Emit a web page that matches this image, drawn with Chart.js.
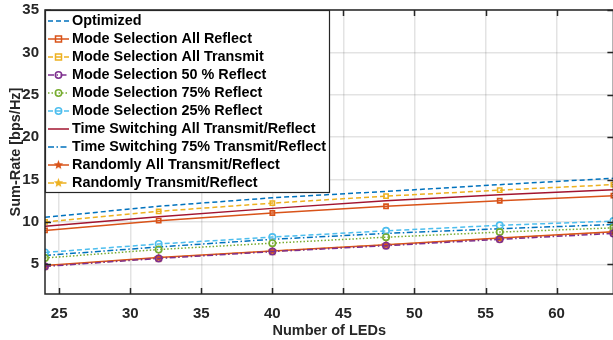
<!DOCTYPE html>
<html>
<head>
<meta charset="utf-8">
<script src="https://cdn.jsdelivr.net/npm/chart.js@4/dist/chart.umd.min.js"></script>
<style>
  html, body { margin: 0; padding: 0; background: #fff; overflow: hidden; }
  #wrap { width: 620px; height: 340px; }
</style>
</head>
<body>
<div id="wrap"><canvas id="sumRate" width="620" height="340"></canvas></div>
<script>
// datos (Sum-Rate vs número de LEDs)
const nLeds = [24, 32, 40, 48, 56, 64];
const xTicks = [25, 30, 35, 40, 45, 50, 55, 60];
const yTicks = [5, 10, 15, 20, 25, 30, 35];

const optimized      = [10.55, 11.85, 12.85, 13.6, 14.4, 15.15];
const msAllReflect   = [9.0, 10.15, 11.05, 11.85, 12.5, 13.1];
const msAllTransmit  = [10.0, 11.25, 12.22, 13.05, 13.75, 14.4];
const ms50Reflect    = [4.75, 5.7, 6.5, 7.2, 7.95, 8.65];
const ms75Reflect    = [5.75, 6.75, 7.5, 8.2, 8.8, 9.3];
const ms25Reflect    = [6.4, 7.4, 8.22, 8.95, 9.6, 10.1];
const tsAll          = [9.5, 10.6, 11.6, 12.5, 13.2, 13.8];
const ts75           = [6.05, 7.05, 7.95, 8.65, 9.2, 9.7];
const randAll        = [4.85, 5.8, 6.58, 7.3, 8.1, 8.85];
const randTR         = [4.8, 5.75, 6.55, 7.28, 8.05, 8.8];

const seriesNames = [
  'Optimized',
  'Mode Selection All Reflect',
  'Mode Selection All Transmit',
  'Mode Selection 50 % Reflect',
  'Mode Selection 75% Reflect',
  'Mode Selection 25% Reflect',
  'Time Switching All Transmit/Reflect',
  'Time Switching 75% Transmit/Reflect',
  'Randomly All Transmit/Reflect',
  'Randomly Transmit/Reflect'
];
const seriesValues = [optimized, msAllReflect, msAllTransmit, ms50Reflect, ms75Reflect,
  ms25Reflect, tsAll, ts75, randAll, randTR];

// colores MATLAB
const C = {
  blue: '#0072BD', orange: '#D95319', yellow: '#EDB120', purple: '#7E2F8E',
  green: '#77AC30', cyan: '#4DBEEE', red: '#A2142F'
};
const DASH = [5, 3], DOT = [1.5, 2], DASHDOT = [6, 2.5, 1.5, 2.5];

// estrella de 5 puntas como marcador
function pentagram(color) {
  const c = document.createElement('canvas');
  c.width = 11; c.height = 11;
  const g = c.getContext('2d');
  g.beginPath();
  for (let i = 0; i < 10; i++) {
    const r = i % 2 === 0 ? 5 : 2.1;
    const a = -Math.PI / 2 + i * Math.PI / 5;
    const px = 5.5 + r * Math.cos(a), py = 5.8 + r * Math.sin(a);
    if (i === 0) g.moveTo(px, py); else g.lineTo(px, py);
  }
  g.closePath();
  g.fillStyle = color;
  g.fill();
  return c;
}

const styles = [
  { color: C.blue, dash: DASH, marker: null },
  { color: C.orange, dash: [], marker: 'rect' },
  { color: C.yellow, dash: DASH, marker: 'rect' },
  { color: C.purple, dash: DASHDOT, marker: 'circle' },
  { color: C.green, dash: DOT, marker: 'circle' },
  { color: C.cyan, dash: DASH, marker: 'circle' },
  { color: C.red, dash: [], marker: null },
  { color: C.blue, dash: DASHDOT, marker: null },
  { color: C.orange, dash: [], marker: 'star' },
  { color: C.yellow, dash: DASHDOT, marker: 'star' }
];

const datasets = seriesNames.map((name, i) => {
  const s = styles[i];
  let pStyle = 'circle', radius = 0;
  if (s.marker === 'rect') { pStyle = 'rect'; radius = 3; }
  if (s.marker === 'circle') { pStyle = 'circle'; radius = 3.2; }
  if (s.marker === 'star') { pStyle = pentagram(s.color); radius = 5; }
  return {
    label: name,
    data: nLeds.map((x, k) => ({ x: x, y: seriesValues[i][k] })),
    borderColor: s.color,
    backgroundColor: 'rgba(255,255,255,0)',
    borderWidth: 1.5,
    borderDash: s.dash,
    pointStyle: pStyle,
    pointRadius: radius,
    pointBorderColor: s.color,
    pointBackgroundColor: 'rgba(255,255,255,0)',
    pointBorderWidth: 1.6,
    tension: 0,
    fill: false,
    _marker: s.marker
  };
});

const AXIS = '#262626';

// caja de ejes, ticks hacia dentro y leyenda dentro del área
const matlabLook = {
  id: 'matlabLook',
  afterDraw(chart) {
    const ctx = chart.ctx, a = chart.chartArea;
    const xs = chart.scales.x, ys = chart.scales.y;
    ctx.save();
    ctx.strokeStyle = AXIS;
    ctx.lineWidth = 1.5;
    ctx.setLineDash([]);
    ctx.strokeRect(a.left, a.top, a.right - a.left, a.bottom - a.top);
    xTicks.forEach(t => {
      const px = Math.round(xs.getPixelForValue(t)) + 0.5;
      ctx.beginPath();
      ctx.moveTo(px, a.bottom); ctx.lineTo(px, a.bottom - 6);
      ctx.moveTo(px, a.top); ctx.lineTo(px, a.top + 6);
      ctx.stroke();
    });
    yTicks.forEach(t => {
      const py = Math.round(ys.getPixelForValue(t)) + 0.5;
      ctx.beginPath();
      ctx.moveTo(a.left, py); ctx.lineTo(a.left + 6, py);
      ctx.moveTo(a.right, py); ctx.lineTo(a.right - 6, py);
      ctx.stroke();
    });

    // leyenda
    const lx = a.left, ly = a.top, lw = 284, lh = 182;
    ctx.fillStyle = '#fff';
    ctx.fillRect(lx, ly, lw, lh);
    ctx.strokeStyle = AXIS;
    ctx.lineWidth = 1.2;
    ctx.strokeRect(lx + 0.5, ly + 0.5, lw, lh);
    ctx.font = 'bold 14.4px "Liberation Sans", Arial, sans-serif';
    ctx.textBaseline = 'middle';
    chart.data.datasets.forEach((ds, i) => {
      const y = ly + 11 + i * 18;
      ctx.strokeStyle = ds.borderColor;
      ctx.lineWidth = 1.5;
      ctx.setLineDash(ds.borderDash);
      ctx.beginPath();
      ctx.moveTo(lx + 3, y); ctx.lineTo(lx + 24, y);
      ctx.stroke();
      ctx.setLineDash([]);
      const mx = lx + 13.5;
      if (ds._marker === 'rect') {
        ctx.strokeRect(mx - 3, y - 3, 6, 6);
      } else if (ds._marker === 'circle') {
        ctx.beginPath(); ctx.arc(mx, y, 3.2, 0, Math.PI * 2); ctx.stroke();
      } else if (ds._marker === 'star') {
        ctx.drawImage(ds.pointStyle, mx - 5.5, y - 5.8);
      }
      ctx.fillStyle = '#000';
      ctx.fillText(ds.label, lx + 27, y + 0.5);
    });
    ctx.restore();
  }
};

const tickFont = { family: '"Liberation Sans", Arial, sans-serif', size: 15, weight: 'bold' };
const titleFont = { family: '"Liberation Sans", Arial, sans-serif', size: 14.5, weight: 'bold' };

new Chart(document.getElementById('sumRate'), {
  type: 'line',
  data: { datasets: datasets },
  options: {
    responsive: false,
    devicePixelRatio: 1,
    animation: false,
    layout: { padding: { top: 10, right: 0, left: 0, bottom: 0 } },
    plugins: { legend: { display: false }, tooltip: { enabled: false } },
    scales: {
      x: {
        type: 'linear',
        min: 24, max: 64,
        afterBuildTicks: s => { s.ticks = xTicks.map(v => ({ value: v })); },
        afterFit: s => { s.height = 46; s.paddingLeft = 0; s.paddingRight = 0; },
        grid: { color: 'rgba(38,38,38,0.13)', lineWidth: 1.5, drawTicks: false },
        border: { display: false },
        ticks: { font: tickFont, color: AXIS, padding: 11, maxRotation: 0 },
        title: { display: true, text: 'Number of LEDs', font: titleFont, color: AXIS, padding: { top: 0, bottom: 0 } }
      },
      y: {
        min: 1.5, max: 35,
        afterBuildTicks: s => { s.ticks = yTicks.map(v => ({ value: v })); },
        afterFit: s => { s.width = 45; s.paddingTop = 0; s.paddingBottom = 0; },
        grid: { color: 'rgba(38,38,38,0.13)', lineWidth: 1.5, drawTicks: false },
        border: { display: false },
        ticks: { font: tickFont, color: AXIS, padding: 6 },
        title: { display: true, text: 'Sum-Rate [bps/Hz]', font: titleFont, color: AXIS, padding: { top: 7, bottom: 0 } }
      }
    }
  },
  plugins: [matlabLook]
});
</script>
</body>
</html>
